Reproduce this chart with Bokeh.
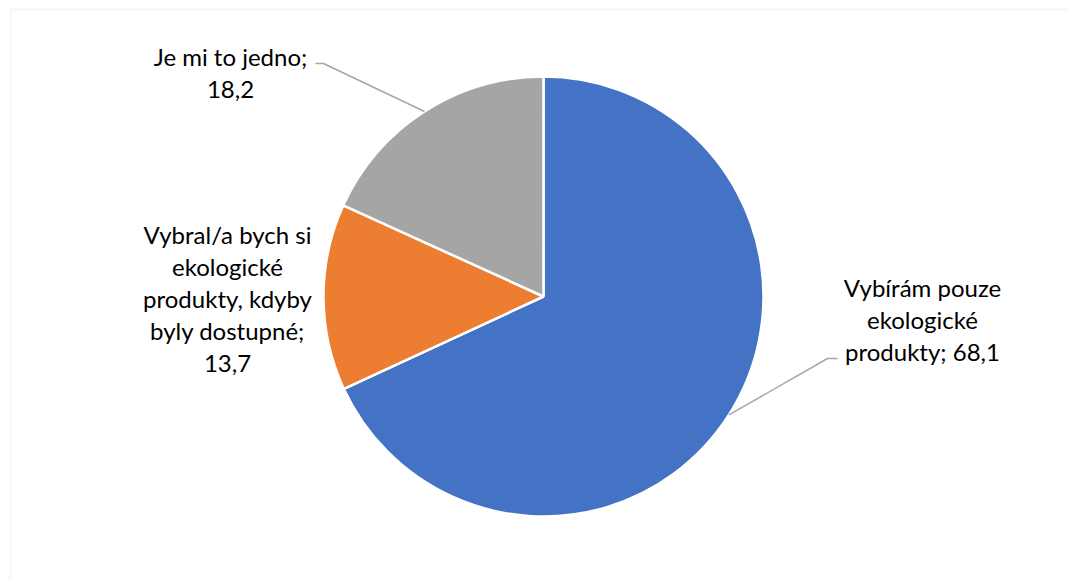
import math
from bokeh.plotting import figure
from bokeh.models import Range1d, ColumnDataSource, BoxAnnotation
from bokeh.core.properties import value
from bokeh.embed import file_html
from bokeh.resources import INLINE

# ---- data ----
categories = ["Vybírám pouze ekologické produkty",
              "Vybral/a bych si ekologické produkty, kdyby byly dostupné",
              "Je mi to jedno"]
values = [68.1, 13.7, 18.2]
label_texts = ["Vybírám pouze\nekologické\nprodukty; 68,1",
               "Vybral/a bych si\nekologické\nprodukty, kdyby\nbyly dostupné;\n13,7",
               "Je mi to jedno;\n18,2"]
colors = ["#4472C4", "#ED7D31", "#A5A5A5"]

# ---- layout (pixels) ----
W, H = 1066, 579
CX, CY, R = 543, 283, 220
label_pos = [(922, 260), (227, 281), (230, 507)]       # label block centres
elbows = [[(827, 221), (837, 221)], None, [(323, 516), (315, 516)]]
FONT = "Lato"
FS = "24px"

p = figure(width=W, height=H, output_backend="svg", toolbar_location=None,
           x_range=Range1d(0, W), y_range=Range1d(0, H), min_border=0,
           background_fill_color="white", border_fill_color="white")
p.axis.visible = False
p.grid.visible = False
p.outline_line_color = None

# chart border (left/top edges visible)
p.add_layout(BoxAnnotation(left=10, right=W + 200, bottom=-200, top=H - 9,
                           fill_color=None, line_color="#d9d9d9", line_width=2))

total = sum(values)
starts, ends, mids = [], [], []
a = math.pi / 2
for v in values:
    span = v / total * 2 * math.pi
    starts.append(a - span)
    ends.append(a)
    mids.append(a - span / 2)
    a -= span

src = ColumnDataSource(dict(start=starts, end=ends, color=colors, cat=categories, val=values))
p.wedge(x=CX, y=CY, radius=R, start_angle="start", end_angle="end", source=src,
        fill_color="color", line_color="white", line_width=2.5)

# leader lines
for i, m in enumerate(mids):
    if elbows[i] is None:
        continue
    ex, ey = CX + R * math.cos(m), CY + R * math.sin(m)
    xs = [ex] + [pt[0] for pt in elbows[i]]
    ys = [ey] + [pt[1] for pt in elbows[i]]
    p.line(xs, ys, line_color="#a6a6a6", line_width=1.5)

lsrc = ColumnDataSource(dict(x=[q[0] for q in label_pos], y=[q[1] for q in label_pos], t=label_texts))
p.text(x="x", y="y", text="t", source=lsrc, text_font=value(FONT), text_font_size=FS,
       text_align="center", text_baseline="middle", text_color="#000000",
       text_line_height=1.11)

open("out.html", "w").write(file_html(p, INLINE))
